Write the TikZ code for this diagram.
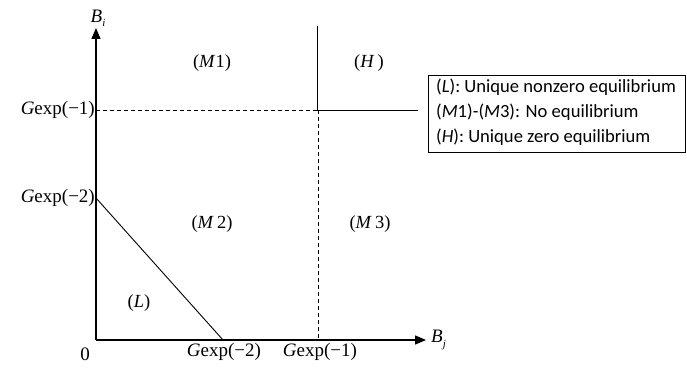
\documentclass[tikz,border=0pt]{standalone}
\usepackage{fontspec}
\setmainfont{Liberation Serif}
\newfontfamily\legendfont{Carlito}
\usetikzlibrary{arrows.meta,positioning}
\newcommand{\Gexp}[1]{\textit{G}exp(−#1)}
\newcommand{\Bsub}[1]{\textit{B}\raisebox{-0.5ex}{\fontsize{11}{11}\selectfont\textit{#1}}}

\begin{document}
\begin{tikzpicture}[x=1pt, y=1pt, >={Triangle[length=11pt,width=9pt]},
  axis/.style={line width=1.4pt},
  border/.style={line width=0.9pt},
  guide/.style={line width=0.8pt, dashed, dash pattern=on 4pt off 3pt},
  region/.style={font=\fontsize{18.5}{20}\selectfont, inner sep=0pt},
  tick/.style={font=\fontsize{19}{20}\selectfont, inner sep=1pt},
  legend/.style={draw, line width=0.8pt, minimum width=257pt, minimum height=77pt,
                 anchor=north west}]
  \useasboundingbox (-96,-29) rectangle (591,340);

  % Axes
  \coordinate (O) at (0,0);
  \coordinate (ytop) at (0,312);
  \coordinate (xend) at (330,0);
  \draw[axis, ->] (O) -- (ytop);
  \draw[axis, ->] (O) -- (xend);
  \node[tick, anchor=south] (Bi) at (2,312) {\Bsub{i}};
  \node[tick, anchor=west] (Bj) at (334,0) {\Bsub{j}};

  % Thresholds
  \coordinate (y1) at (0,230);
  \coordinate (y2) at (0,142);
  \coordinate (x1) at (222,0);
  \coordinate (x2) at (127,0);
  \coordinate (C) at (222,230);
  \coordinate (Ctop) at (221,314);
  \coordinate (Cright) at (322,230);

  \draw[guide] (y1) -- (C);
  \draw[guide] (C) -- (x1);
  \draw[border] (Ctop) -- (221,230) -- (Cright);
  \draw[border] (y2) -- (x2);

  % Tick labels
  \node[tick, anchor=east] (ly1) at (y1) {\Gexp{1}};
  \node[tick, anchor=east] (ly2) at (y2) {\Gexp{2}};
  \node[tick] (l0) at (-11,-14) {0};
  \node[tick] (lx2) at (128,-12) {\Gexp{2}};
  \node[tick] (lx1) at (224,-12) {\Gexp{1}};

  % Regions
  \node[region] (M1) at (116,277) {(\textit{M}1)};
  \node[region] (H) at (273,277) {(\textit{H}\,)};
  \node[region] (M2) at (116,116) {(\textit{M}\,2)};
  \node[region] (M3) at (274,116) {(\textit{M}\,3)};
  \node[region] (L) at (43,37) {(\textit{L})};

  % Legend
  \node[legend] (box) at (332,265) {};
  \node[anchor=west, align=left, inner sep=0pt,
        font=\legendfont\fontsize{18.6}{25}\selectfont] (txt) at (340,228)
    {(\textit{L}): Unique nonzero equilibrium\\
     (\textit{M}1)-(\textit{M}3): No equilibrium\\
     (\textit{H}): Unique zero equilibrium};
\end{tikzpicture}
\end{document}
